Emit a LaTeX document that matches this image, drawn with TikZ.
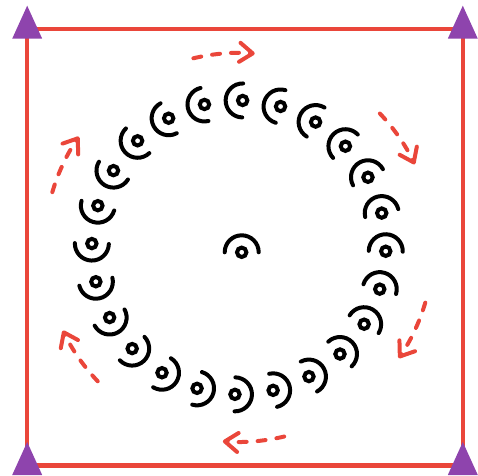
\documentclass[tikz,border=0pt]{standalone}
\usetikzlibrary{arrows.meta,calc}
\definecolor{flamered}{RGB}{234,70,58}
\definecolor{wisteria}{RGB}{142,68,173}
\begin{document}
\begin{tikzpicture}[x=1pt,y=1pt,
  frame/.style={draw=flamered,line width=4.3pt},
  corner/.style={fill=wisteria},
  hub/.style={circle,draw=black,line width=4pt,minimum size=9.4pt,inner sep=0pt},
  wave/.style={draw=black,line width=4pt,line cap=round},
  flow/.style={draw=flamered,line width=4pt,line cap=round,dash pattern=on 8pt off 11pt,
    -{Straight Barb[length=13pt,width=19pt,line cap=round,line join=round]}}]
\useasboundingbox (0,0) rectangle (478,475);
% frame
\coordinate (tl) at (27.2,445.8);
\coordinate (tr) at (462.8,445.8);
\coordinate (bl) at (27.2,9.5);
\coordinate (br) at (462.8,9.5);
\draw[frame] (tl) -- (tr) -- (br) -- (bl) -- cycle;
\foreach \c in {tl,tr,bl,br}{
  \fill[corner] ($(\c)+(0,23.5)$) -- ($(\c)+(15,-9.5)$) -- ($(\c)+(-15,-9.5)$) -- cycle;
}
% ring of symbols
\coordinate (C) at (238.8,227.6);
\foreach \k in {0,...,23}{
  \pgfmathsetmacro\a{88.5-15*\k}
  \pgfmathsetmacro\b{\a+180}
  \node[hub] (s\k) at ($(C)+(\a:147)$) {};
  \draw[wave] (s\k.center) ++(\a:17) arc[start angle=\a, end angle=\b, radius=17];
}
% centre symbol
\node[hub] (m) at (241.7,222.7) {};
\draw[wave] (m.center) ++(0:17) arc[start angle=0, end angle=180, radius=17];
% flow arrows
\foreach \j in {0,...,5}{
  \pgfmathsetmacro\sa{103.5-60*\j}
  \pgfmathsetmacro\ea{85.3-60*\j}
  \coordinate (f\j) at ($(C)+(\sa:194.5)$);
  \draw[flow] (f\j) arc[start angle=\sa, end angle=\ea, radius=194.5];
}
\end{tikzpicture}
\end{document}
